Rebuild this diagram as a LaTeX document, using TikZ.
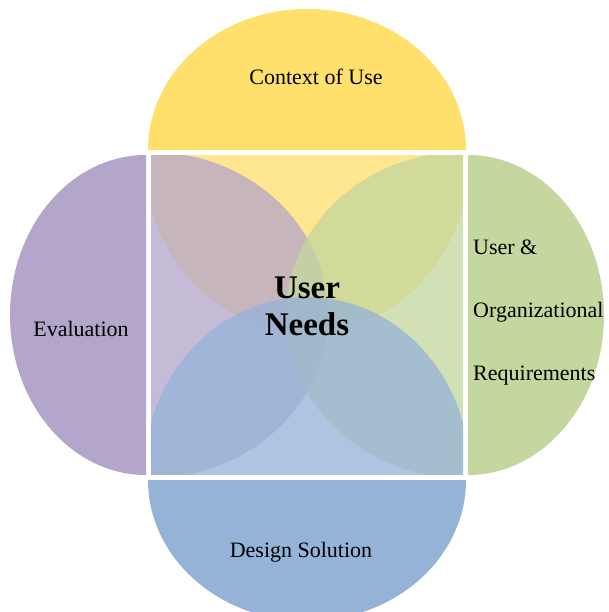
\documentclass[tikz,border=0pt]{standalone}
\usepackage{fontspec}
\setmainfont{Liberation Serif}
\usepackage{tikz}

\definecolor{ctxyellow}{RGB}{255,224,108}
\definecolor{evalpurple}{RGB}{180,166,203}
\definecolor{reqgreen}{RGB}{196,215,158}
\definecolor{designblue}{RGB}{149,179,215}

\tikzset{
  lbl/.style={font=\fontsize{22}{26}\selectfont, inner sep=0pt},
  inner/.style={fill opacity=.76}
}

\begin{document}
\begin{tikzpicture}[x=1pt, y=-1pt]
%\draw [help lines] grid (608,612);
\useasboundingbox (0,0) rectangle (608,612);

% outer halves
\begin{scope}
\clip (0,0) rectangle (608,150);
\fill[ctxyellow] (307,150) ellipse [x radius=159, y radius=141];
\end{scope}
\begin{scope}
\clip (0,0) rectangle (146,612);
\fill[evalpurple] (146,315) ellipse [x radius=136, y radius=160];
\end{scope}
\begin{scope}
\clip (468,0) rectangle (608,612);
\fill[reqgreen] (468,315) ellipse [x radius=136, y radius=160];
\end{scope}
\begin{scope}
\clip (0,480) rectangle (608,612);
\fill[designblue] (307,480) ellipse [x radius=159, y radius=141];
\end{scope}

% inner halves
\begin{scope}
\clip (151,156) rectangle (463,474);
\fill[ctxyellow, inner] (307,156) ellipse [x radius=163, y radius=177];
\fill[evalpurple, inner] (151,315) ellipse [x radius=177, y radius=163];
\fill[reqgreen, inner] (463,315) ellipse [x radius=177, y radius=163];
\fill[designblue, inner] (307,474) ellipse [x radius=163, y radius=177];
\end{scope}

\node[lbl] (context) at (316,77) {Context of Use};
\node[lbl] (evaluation) at (81,329) {Evaluation};
\node[lbl] (design) at (301,552) {Design Solution};
\node[lbl, anchor=west, align=left] (userorg) at (473,313)
  {User \&\\[37pt]Organizational\\[37pt]Requirements};
\node[font=\bfseries\fontsize{33}{37}\selectfont, align=center, inner sep=0pt] (needs) at (307,306) {User\\Needs};

\end{tikzpicture}
\end{document}
